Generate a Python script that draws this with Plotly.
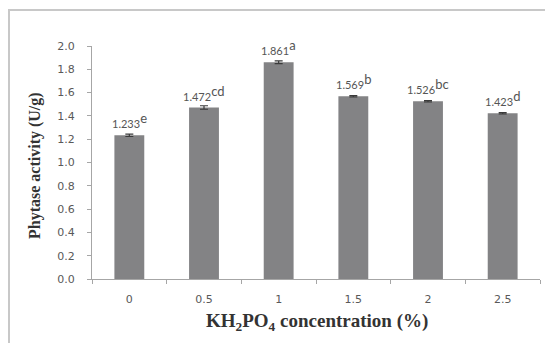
import plotly.graph_objects as go

categories = ["0", "0.5", "1", "1.5", "2", "2.5"]
activity = [1.233, 1.472, 1.861, 1.569, 1.526, 1.423]
errors = [0.010, 0.015, 0.012, 0.006, 0.006, 0.006]
letters = ["e", "cd", "a", "b", "bc", "d"]
y_ticks = [0.0, 0.2, 0.4, 0.6, 0.8, 1.0, 1.2, 1.4, 1.6, 1.8, 2.0]

# the page body has an 8px default margin; size the figure to fit the window
OFF = 8
W, H = 553 - OFF, 343 - OFF
L, R, T, B = 92 - OFF, 13, 46 - OFF, 64
pw, ph = W - L - R, H - T - B
fx = lambda px: (px - OFF - L) / pw           # window px -> paper x
fy = lambda py: (H - B - (py - OFF)) / ph     # window px -> paper y

fig = go.Figure()
fig.add_trace(go.Bar(
    x=categories, y=activity,
    marker=dict(color="#838385", line=dict(width=0)),
    width=0.4,
    error_y=dict(type="data", array=errors, visible=True, color="#3a3a3a", thickness=1.2, width=4),
    showlegend=False,
))

for i, (v, l) in enumerate(zip(activity, letters)):
    fig.add_annotation(
        x=i, y=v,
        text=f"{v:.3f}<sup><span style='font-size:13px;color:rgb(85,85,85)'>{l}</span></sup>",
        showarrow=False, yanchor="bottom", yshift=3,
        font=dict(family="Lato, Open Sans, sans-serif", size=11, color="#555555"),
    )

# outer frame (left and top lines)
fig.add_shape(type="line", xref="paper", yref="paper", x0=fx(8), x1=fx(553), y0=fy(10), y1=fy(10),
              line=dict(color="#c8c8c8", width=2))
fig.add_shape(type="line", xref="paper", yref="paper", x0=fx(9), x1=fx(9), y0=fy(10), y1=fy(343),
              line=dict(color="#c8c8c8", width=2))

# axis titles
fig.add_annotation(
    xref="paper", yref="paper", x=fx(35), y=fy(166), textangle=-90,
    text="Phytase activity (U/g)", showarrow=False, xanchor="center", yanchor="middle",
    font=dict(family="Liberation Serif, serif", size=16, color="#333333", weight="bold"),
)
fig.add_annotation(
    xref="paper", yref="paper", x=fx(317), y=fy(322),
    text="KH<sub>2</sub>PO<sub>4</sub> concentration (%)", showarrow=False,
    xanchor="center", yanchor="middle",
    font=dict(family="Liberation Serif, serif", size=19, color="#333333", weight="bold"),
)

fig.update_layout(
    width=W, height=H,
    margin=dict(l=L, r=R, t=T, b=B),
    paper_bgcolor="white", plot_bgcolor="white",
    bargap=0.6,
    xaxis=dict(
        type="category", showline=True, linecolor="#a6a6a6", linewidth=1,
        ticks="outside", tickson="boundaries", ticklen=4, tickcolor="#a6a6a6",
        tickfont=dict(family="DejaVu Sans", size=11, color="#595959"),
        ticklabelstandoff=10,
        showgrid=False, zeroline=False, automargin=False,
    ),
    yaxis=dict(
        range=[0, 2.0], tickvals=y_ticks, ticktext=[f"{t:.1f}" for t in y_ticks],
        showline=True, linecolor="#a6a6a6", linewidth=1,
        ticks="outside", ticklen=4, tickcolor="#a6a6a6",
        tickfont=dict(family="DejaVu Sans", size=11, color="#595959"),
        ticklabelstandoff=10,
        showgrid=False, zeroline=False, automargin=False,
    ),
)

fig.write_html("out.html")
